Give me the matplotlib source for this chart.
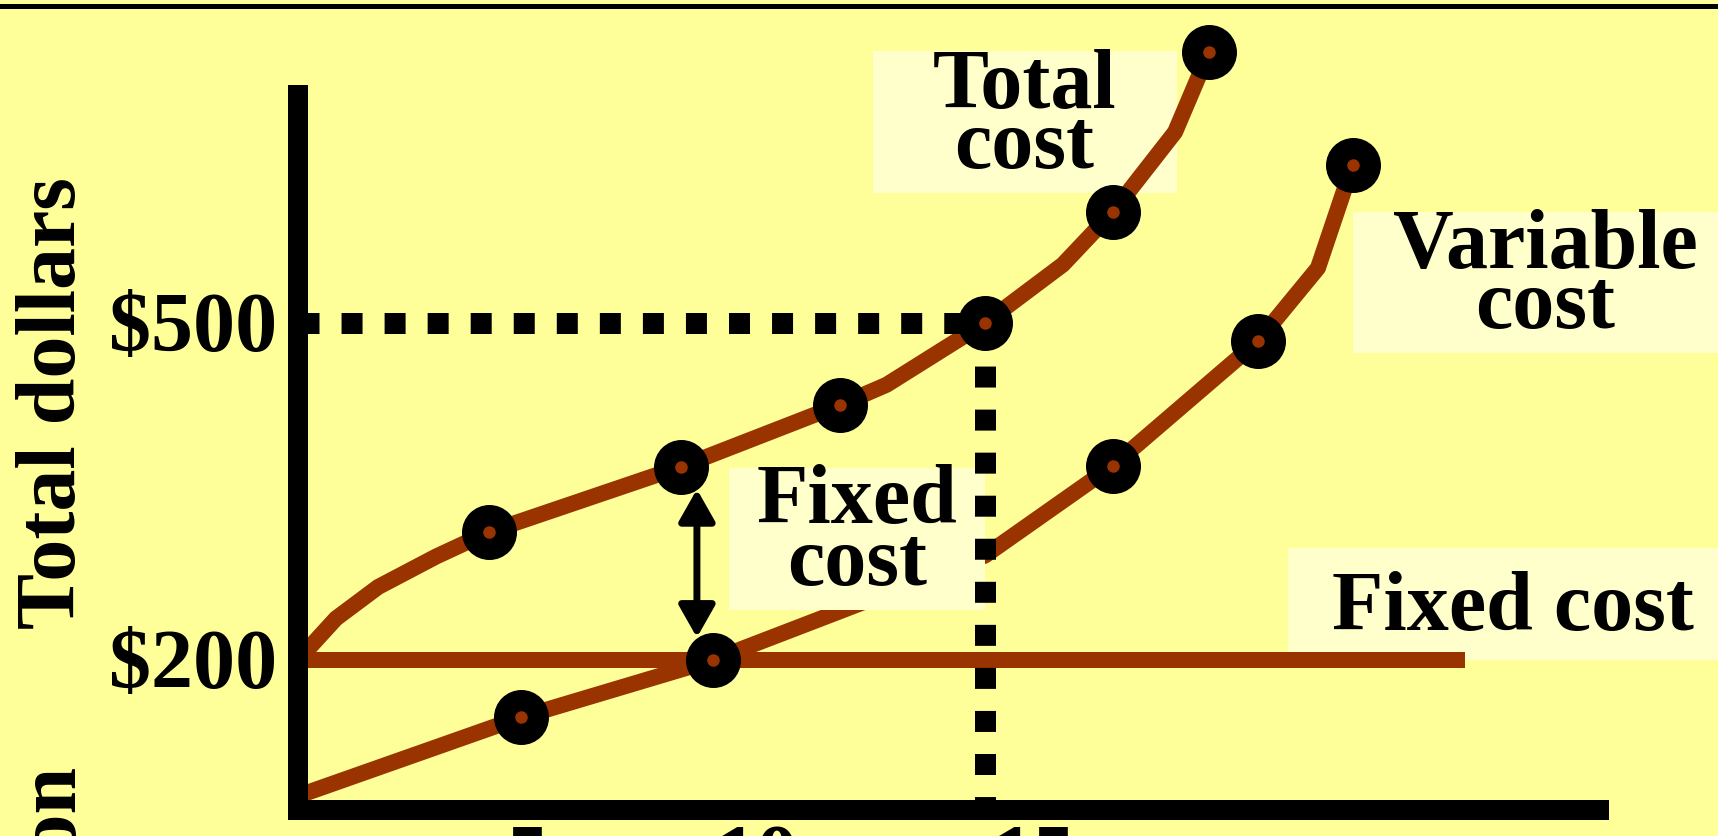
import matplotlib
matplotlib.use("Agg")
import matplotlib.pyplot as plt
import matplotlib.transforms as mtransforms
from matplotlib.patches import Rectangle, FancyArrowPatch
from matplotlib.lines import Line2D

# quantity (x) and total dollars (y)
tc_q = [0, 0.83, 1.75, 3.01, 4.17, 8.36, 11.83, 12.85, 15.0, 16.70, 17.79, 19.15, 19.89]
tc_y = [200, 237, 265, 292, 314, 372, 427, 445, 500, 552, 599, 670, 741]
tc_pts_q = [4.17, 8.36, 11.83, 15.0, 17.79, 19.89]
tc_pts_y = [314, 372, 427, 500, 599, 741]

vc_q = [0, 4.87, 9.06, 15.0, 17.79, 20.96, 22.27, 23.03]
vc_y = [79, 149, 200, 293, 373, 484, 549, 641]
vc_pts_q = [4.87, 9.06, 17.79, 20.96, 23.03]
vc_pts_y = [149, 200, 373, 484, 641]

fc_q = [0, 25.48]
fc_y = [200, 200]

q_mark, y_mark = 15, 500
arrow_q = 8.71
arrow_y = [352, 220]

y_ticks = [200, 500]
y_ticklabels = ["\\$200", "\\$500"]
x_ticks = [5, 10, 15]
x_ticklabels = ["5", "10", "15"]

W, H = 1718, 836
BG = "#FFFF99"
BOX = "#FFFFCC"
BROWN = "#993300"
PT = 72 / 100  # points per pixel

fig = plt.figure(figsize=(W / 100, H / 100), dpi=100, facecolor=BG)
ax = fig.add_axes([298 / W, 1 - 810 / H, (1599 - 298) / W, (810 - 95) / H])
ax.set_facecolor("none")
ax.set_xlim(0, 28.406)
ax.set_ylim(66.47, 702.98)
for s in ["top", "right"]:
    ax.spines[s].set_visible(False)
for s in ["left", "bottom"]:
    ax.spines[s].set_linewidth(20 * PT)
    ax.spines[s].set_color("black")
    ax.spines[s].set_zorder(6)
ax.set_xticks([])
ax.set_yticks([])

# pixel coordinates, origin top-left
pix = mtransforms.Affine2D().scale(1 / W, -1 / H).translate(0, 1) + fig.transFigure

font = dict(family=["Liberation Serif", "DejaVu Serif"], weight="bold", fontsize=60.5, color="black")

# pale backgrounds behind the labels (middle one hides the variable cost line)
for (x0, y0, x1, y1, z) in [(873, 51, 1177, 193, 1), (1353, 212, 1718, 353, 1),
                            (729, 468, 985, 610, 2.5), (1288, 548, 1718, 660, 1)]:
    ax.add_patch(Rectangle((x0, y0), x1 - x0, y1 - y0, transform=pix,
                           facecolor=BOX, edgecolor="none", zorder=z, clip_on=False))

# cost curves
lw = 16 * PT
ax.plot(fc_q, fc_y, color=BROWN, lw=lw, solid_capstyle="butt", zorder=2, clip_on=False)
ax.plot(tc_q, tc_y, color=BROWN, lw=lw, solid_capstyle="butt", zorder=2, clip_on=False)
ax.plot(vc_q, vc_y, color=BROWN, lw=lw, solid_capstyle="butt", zorder=2, clip_on=False)

# dotted guide lines at q=15, $500
dash = dict(color="black", lw=21 * PT, linestyle=(0, (1, 1.05)), dash_capstyle="butt",
            zorder=3, clip_on=False)
ax.plot([0, q_mark], [y_mark, y_mark], **dash)
ax.plot([q_mark, q_mark], [y_mark, ax.get_ylim()[0]], **dash)

# markers: black disc with a small brown centre
for qs, ys in [(tc_pts_q, tc_pts_y), (vc_pts_q, vc_pts_y)]:
    ax.plot(qs, ys, "o", color="black", ms=55 * PT, mew=0, zorder=4, clip_on=False)
    ax.plot(qs, ys, "o", color=BROWN, ms=12.5 * PT, mew=0, zorder=5, clip_on=False)

# fixed cost gap arrow
ax.add_patch(FancyArrowPatch((arrow_q, arrow_y[0]), (arrow_q, arrow_y[1]),
                             arrowstyle="<|-|>,head_length=0.97,head_width=0.55",
                             mutation_scale=20, lw=5, color="black",
                             shrinkA=0, shrinkB=0, zorder=4, clip_on=False))

# tick labels
ytr = mtransforms.blended_transform_factory(pix, ax.transData)
for v, t in zip(y_ticks, y_ticklabels):
    ax.text(277, v, t, transform=ytr + mtransforms.ScaledTranslation(0, -28 / 100, fig.dpi_scale_trans),
            ha="right", va="baseline", **font)
xtr = mtransforms.blended_transform_factory(ax.transData, pix)
for v, t, off in zip(x_ticks, x_ticklabels, [0, 0, 48]):
    ax.text(v, 883, t, transform=xtr + mtransforms.ScaledTranslation(off / 100, 0, fig.dpi_scale_trans),
            ha="center", va="baseline", clip_on=False, **font)

# axis title (rotated) and the partly hidden word below it
ax.text(75, 403, "Total dollars", transform=pix, rotation=90, rotation_mode="anchor",
        ha="center", va="baseline", **font)
ax.text(75, 765, "Production", transform=pix, rotation=90, rotation_mode="anchor",
        ha="right", va="baseline", **font)

# curve labels
for t, x, y in [("Total", 1025, 108), ("cost", 1024, 168),
                ("Variable", 1545, 268), ("cost", 1545, 328),
                ("Fixed", 857, 523), ("cost", 857, 585),
                ("Fixed cost", 1513, 630)]:
    ax.text(x, y, t, transform=pix, ha="center", va="baseline", zorder=7, **font)

# slide rule at the very top
fig.add_artist(Line2D([0, 1], [1 - 6 / H, 1 - 6 / H], transform=fig.transFigure,
                      color="black", lw=5 * PT))

fig.savefig("out.png", dpi=100, facecolor=BG)
